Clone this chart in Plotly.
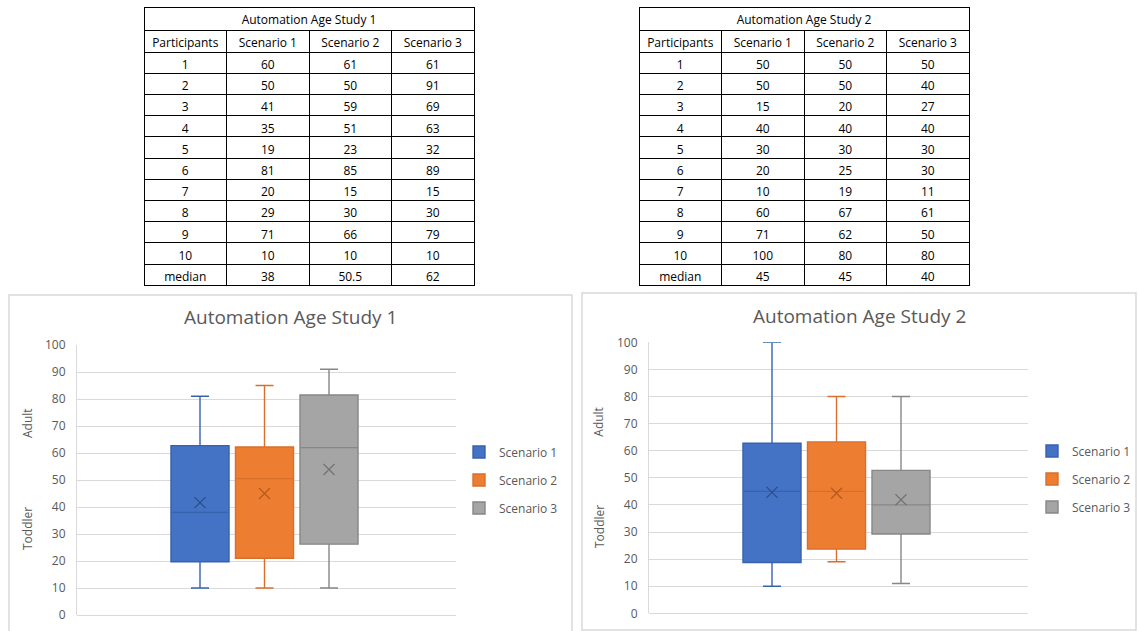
import numpy as np
import plotly.graph_objects as go

W, H = 1138, 631

# ---------------- data ----------------
participants = [1, 2, 3, 4, 5, 6, 7, 8, 9, 10]
scenarios = ["Scenario 1", "Scenario 2", "Scenario 3"]

study1_s1 = [60, 50, 41, 35, 19, 81, 20, 29, 71, 10]
study1_s2 = [61, 50, 59, 51, 23, 85, 15, 30, 66, 10]
study1_s3 = [61, 91, 69, 63, 32, 89, 15, 30, 79, 10]

study2_s1 = [50, 50, 15, 40, 30, 20, 10, 60, 71, 100]
study2_s2 = [50, 50, 20, 40, 30, 25, 19, 67, 62, 80]
study2_s3 = [50, 40, 27, 40, 30, 30, 11, 61, 50, 80]

study_titles = ["Automation Age Study 1", "Automation Age Study 2"]
y_labels = ["Adult", "Toddler"]

fill_colors = ["#4472C4", "#ED7D31", "#A5A5A5"]
line_colors = ["#3762AE", "#D96F2C", "#878787"]
mean_colors = ["#2B4C8A", "#B35A1F", "#737373"]

FONT = "Open Sans"
GREY = "#595959"
GRID = "#D9D9D9"


def px(x):
    return x / W


def py(y):
    return 1 - y / H


def fmt(v):
    return f"{v:g}"


fig = go.Figure()

# ---------------- tables ----------------
table_specs = [
    (study_titles[0], [study1_s1, study1_s2, study1_s3], 144, 474),
    (study_titles[1], [study2_s1, study2_s2, study2_s3], 639, 969),
]
for title, cols, x0, x1 in table_specs:
    fig.add_trace(go.Table(
        domain=dict(x=[px(x0), px(x1)], y=[py(31), py(7)]),
        header=dict(values=[title], height=23, align="center",
                    line=dict(color="black", width=1), fill_color="white",
                    font=dict(family=FONT, size=12, color="black")),
        cells=dict(values=[[]], height=21, line=dict(color="black", width=1),
                   fill_color="white"),
    ))
    cell_vals = [[str(p) for p in participants] + ["median"]]
    for c in cols:
        cell_vals.append([str(v) for v in c] + [fmt(np.median(c))])
    fig.add_trace(go.Table(
        domain=dict(x=[px(x0), px(x1)], y=[py(288), py(30)]),
        columnwidth=[1, 1, 1, 1],
        header=dict(values=["Participants"] + scenarios, height=22, align="center",
                    line=dict(color="black", width=1), fill_color="white",
                    font=dict(family=FONT, size=12, color="black")),
        cells=dict(values=cell_vals, height=21.2, align="center",
                   line=dict(color="black", width=1), fill_color="white",
                   font=dict(family=FONT, size=12, color="black")),
    ))

# ---------------- box plots ----------------
charts = [
    dict(data=[study1_s1, study1_s2, study1_s3], xa="x", ya="y", legend="legend",
         xdom=(77, 456), ydom=(615, 345)),
    dict(data=[study2_s1, study2_s2, study2_s3], xa="x2", ya="y2", legend="legend2",
         xdom=(649, 1028), ydom=(613.3, 342.3)),
]

for ci, ch in enumerate(charts):
    for si, vals in enumerate(ch["data"]):
        arr = np.array(vals, dtype=float)
        q1, med, q3 = np.percentile(arr, [25, 50, 75], method="weibull")
        iqr = q3 - q1
        lo = arr[arr >= q1 - 1.5 * iqr].min()
        hi = arr[arr <= q3 + 1.5 * iqr].max()
        fig.add_trace(go.Box(
            x=[scenarios[si]], q1=[q1], median=[med], q3=[q3],
            lowerfence=[lo], upperfence=[hi],
            name=scenarios[si], legend=ch["legend"],
            legendgroup=f"c{ci}s{si}",
            xaxis=ch["xa"], yaxis=ch["ya"],
            fillcolor=fill_colors[si],
            line=dict(color=line_colors[si], width=1.4),
            whiskerwidth=0.31, boxpoints=False, hoverinfo="skip",
        ))
        fig.add_trace(go.Scatter(
            x=[scenarios[si]], y=[arr.mean()], mode="markers",
            xaxis=ch["xa"], yaxis=ch["ya"], showlegend=False, hoverinfo="skip",
            marker=dict(symbol="x-thin", size=11,
                        line=dict(color=mean_colors[si], width=1.2)),
        ))

# axes
for ci, ch in enumerate(charts):
    sfx = "" if ci == 0 else "2"
    x0, x1 = ch["xdom"]
    yb, yt = ch["ydom"]
    span = (x1 - x0) / 64.5
    centre = 1 + 2 / 64.5
    fig.layout["xaxis" + sfx] = dict(
        domain=[px(x0), px(x1)], anchor="y" + sfx,
        type="category", categoryorder="array", categoryarray=scenarios,
        range=[centre - span / 2, centre + span / 2],
        showticklabels=False, showgrid=False, zeroline=False, ticks="",
        showline=False, fixedrange=True, automargin=False,
    )
    fig.layout["yaxis" + sfx] = dict(
        domain=[py(yb), py(yt)], anchor="x" + sfx, range=[0, 100], dtick=10,
        showgrid=True, gridcolor=GRID, gridwidth=1,
        zeroline=True, zerolinecolor=GRID, zerolinewidth=1,
        showline=True, linecolor=GRID, linewidth=1,
        ticks="", ticklabelstandoff=8, automargin=False,
        tickfont=dict(family=FONT, size=12, color=GREY), fixedrange=True,
    )

fig.update_layout(boxmode="overlay", boxgap=0.1, boxgroupgap=0)

# legends
legend_common = dict(xanchor="left", yanchor="middle", bgcolor="rgba(0,0,0,0)",
                     font=dict(family=FONT, size=12, color=GREY),
                     tracegroupgap=9, traceorder="grouped")
fig.update_layout(
    legend=dict(x=px(459), y=py(480), **legend_common),
    legend2=dict(x=px(1032), y=py(479), **legend_common),
)

# panel borders, titles, side labels
panels = [(9, 295, 572, 640, 290.5, 317, 27, 423, 529),
          (582, 293, 1136, 630, 859, 316, 599, 421.7, 527)]
for pi, (l, t, r, b, tx, ty, lx, ay, ty2) in enumerate(panels):
    fig.add_shape(type="rect", xref="paper", yref="paper",
                  x0=px(l), x1=px(r), y0=py(b), y1=py(t),
                  line=dict(color=GRID, width=1.5), layer="below")
    fig.add_annotation(text=study_titles[pi], xref="paper", yref="paper",
                       x=px(tx), y=py(ty), showarrow=False,
                       xanchor="center", yanchor="middle",
                       font=dict(family=FONT, size=19, color=GREY))
    fig.add_annotation(text=y_labels[0], xref="paper", yref="paper",
                       x=px(lx), y=py(ay), showarrow=False, textangle=-90,
                       xanchor="center", yanchor="middle",
                       font=dict(family=FONT, size=12, color=GREY))
    fig.add_annotation(text=y_labels[1], xref="paper", yref="paper",
                       x=px(lx), y=py(ty2), showarrow=False, textangle=-90,
                       xanchor="center", yanchor="middle",
                       font=dict(family=FONT, size=12, color=GREY))

fig.update_layout(
    width=W, height=H,
    margin=dict(l=0, r=0, t=0, b=0, pad=0, autoexpand=False),
    paper_bgcolor="white", plot_bgcolor="white",
)

fig.write_html(
    "out.html",
    config={"displayModeBar": False},
    post_script="document.body.style.margin='0';document.body.style.overflow='hidden';",
)
